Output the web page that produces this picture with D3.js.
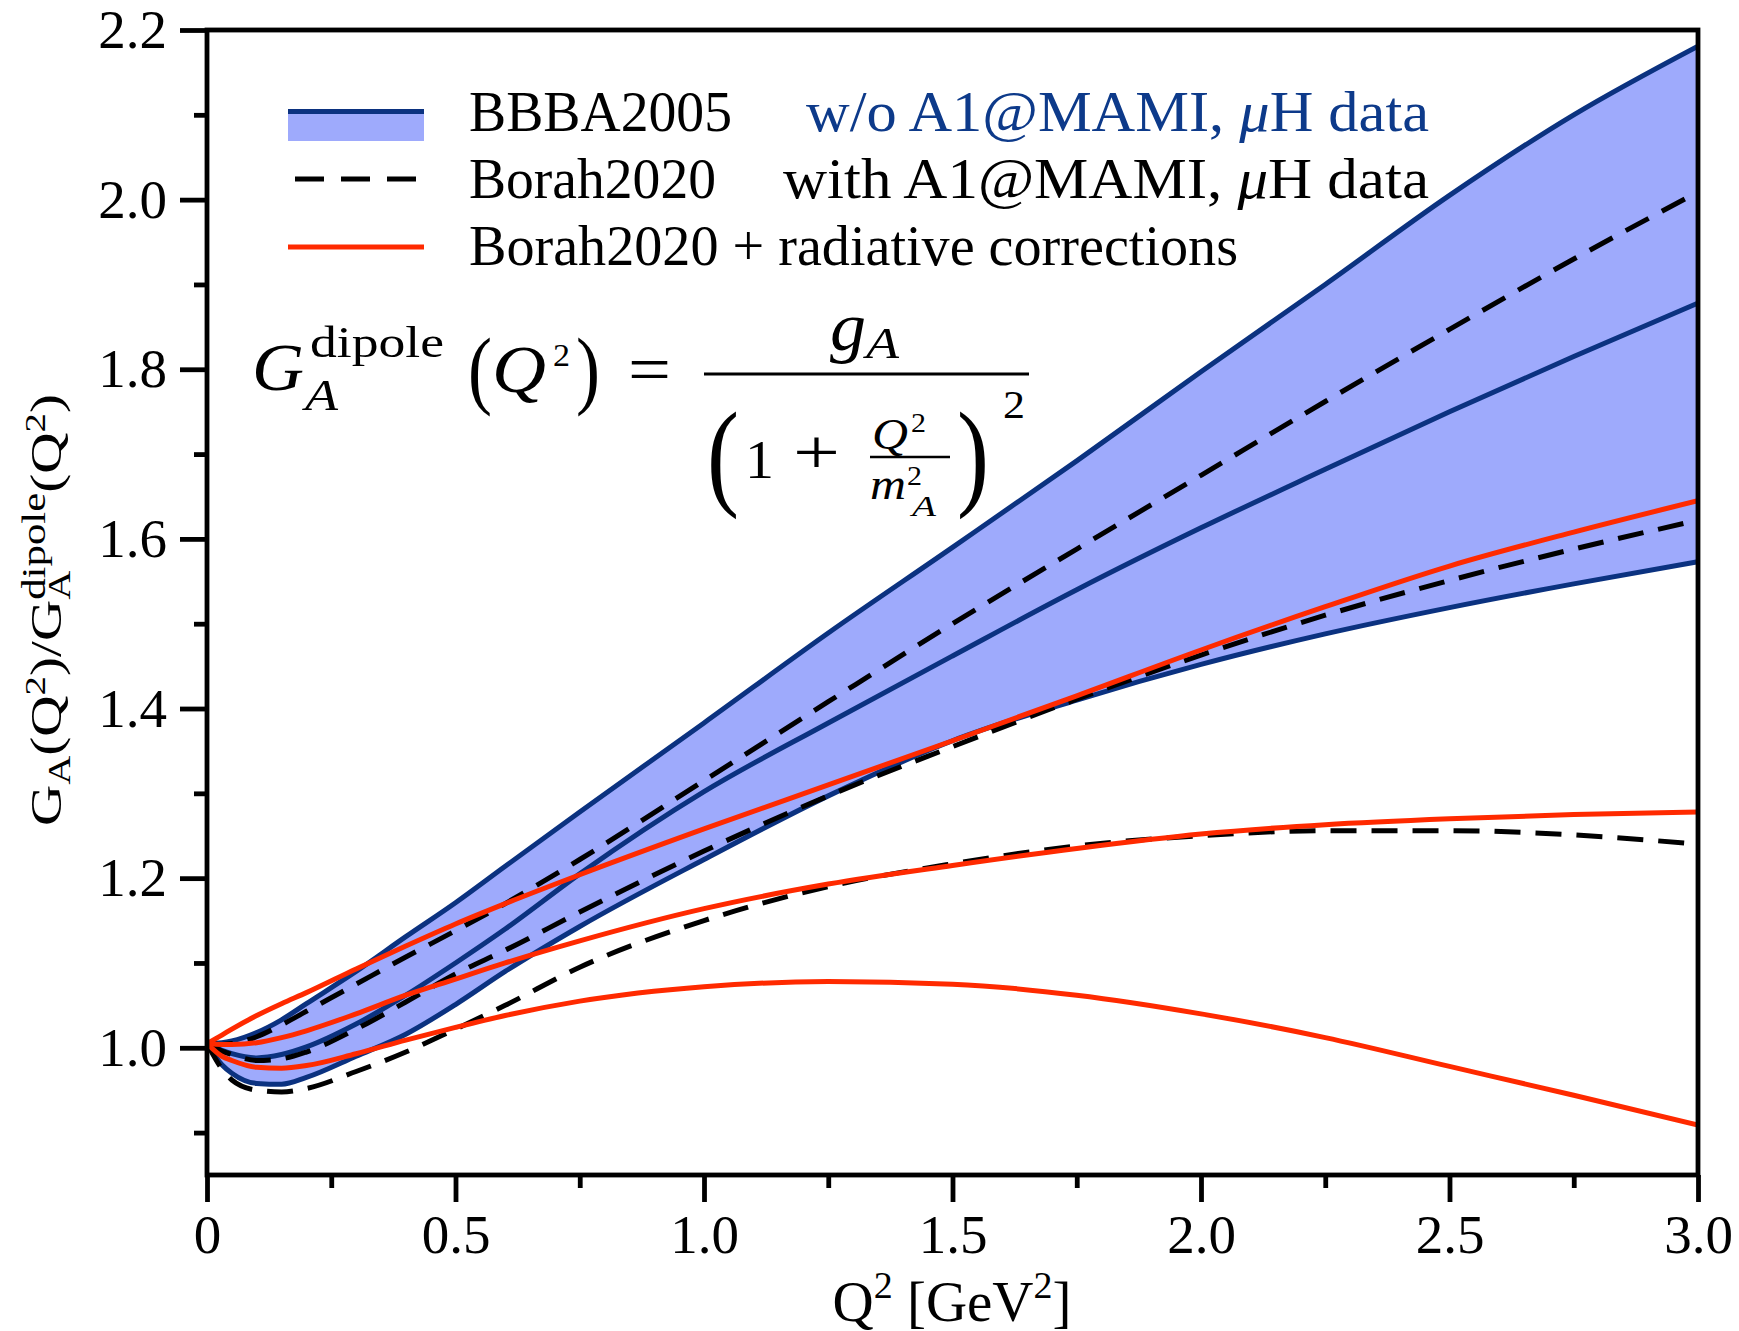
<!DOCTYPE html>
<html><head><meta charset="utf-8">
<script src="https://cdn.jsdelivr.net/npm/d3@7"></script>
<style>
body{margin:0;background:#fff;}
text{font-family:"Liberation Serif","Times New Roman",serif;fill:#000;}
</style>
</head><body>
<svg id="c" width="1739" height="1331"></svg>
<script>
// ---------------- data ----------------
const qVals = [0, 0.03, 0.05, 0.1, 0.15, 0.2, 0.3, 0.4, 0.5, 0.6, 0.75, 1.0, 1.25, 1.5, 1.75, 2.0, 2.25, 2.5, 2.75, 3.0];
const bbbaUpper   = [1.005, 1.006, 1.008, 1.018, 1.033, 1.052, 1.090, 1.131, 1.171, 1.214, 1.278, 1.383, 1.489, 1.590, 1.692, 1.797, 1.900, 2.005, 2.100, 2.181];
const bbbaCentral = [1.005, 0.997, 0.993, 0.988, 0.992, 1.001, 1.028, 1.062, 1.100, 1.140, 1.205, 1.302, 1.383, 1.462, 1.540, 1.613, 1.682, 1.750, 1.815, 1.878];
const bbbaLower   = [1.005, 0.980, 0.970, 0.958, 0.957, 0.965, 0.990, 1.016, 1.051, 1.090, 1.143, 1.222, 1.297, 1.362, 1.410, 1.452, 1.488, 1.519, 1.547, 1.573];
const borahUpper   = [1.005, 1.004, 1.005, 1.013, 1.027, 1.043, 1.075, 1.107, 1.138, 1.170, 1.222, 1.315, 1.408, 1.500, 1.588, 1.675, 1.762, 1.847, 1.930, 2.009];
const borahCentral = [1.005, 0.996, 0.992, 0.985, 0.987, 0.995, 1.022, 1.054, 1.087, 1.115, 1.160, 1.232, 1.297, 1.355, 1.411, 1.463, 1.510, 1.551, 1.588, 1.622];
const borahLower   = [1.005, 0.975, 0.962, 0.950, 0.948, 0.952, 0.972, 0.995, 1.022, 1.050, 1.095, 1.150, 1.190, 1.217, 1.238, 1.250, 1.256, 1.256, 1.251, 1.240];
const radUpper   = [1.005, 1.015, 1.022, 1.038, 1.052, 1.065, 1.093, 1.120, 1.146, 1.170, 1.204, 1.258, 1.310, 1.362, 1.415, 1.469, 1.520, 1.568, 1.608, 1.645];
const radCentral = [1.005, 1.004, 1.004, 1.006, 1.012, 1.020, 1.040, 1.062, 1.081, 1.100, 1.126, 1.164, 1.193, 1.215, 1.235, 1.252, 1.263, 1.270, 1.275, 1.278];
const radLower   = [1.005, 0.990, 0.985, 0.977, 0.976, 0.979, 0.993, 1.009, 1.024, 1.038, 1.055, 1.072, 1.078, 1.075, 1.062, 1.040, 1.012, 0.978, 0.944, 0.909];

const xTicks = [0, 0.5, 1.0, 1.5, 2.0, 2.5, 3.0];
const xTickLabels = ["0", "0.5", "1.0", "1.5", "2.0", "2.5", "3.0"];
const xMinorTicks = [0.25, 0.75, 1.25, 1.75, 2.25, 2.75];
const yTicks = [1.0, 1.2, 1.4, 1.6, 1.8, 2.0, 2.2];
const yTickLabels = ["1.0", "1.2", "1.4", "1.6", "1.8", "2.0", "2.2"];
const yMinorTicks = [0.9, 1.1, 1.3, 1.5, 1.7, 1.9, 2.1];

const legendNames = ["BBBA2005", "Borah2020", "Borah2020 + radiative corrections"];
const legendNotes = ["w/o A1@MAMI, ", "with A1@MAMI, ", ""];

// ---------------- styles ----------------
const NAVY = "#0b3280", FILL = "#9eaafc", RED = "#ff2a00", NOTEBLUE = "#0d3a8a";
const L = 207, R = 1698, T = 30, B = 1175;

const svg = d3.select("#c");
const x = d3.scaleLinear().domain([0, 3]).range([L, R]);
const y = d3.scaleLinear().domain([0.85, 2.2]).range([B, T]);

svg.append("defs").append("clipPath").attr("id", "clip")
  .append("rect").attr("x", L).attr("y", T).attr("width", R - L).attr("height", B - T);

const plot = svg.append("g").attr("clip-path", "url(#clip)");
const idx = d3.range(qVals.length);

const area = d3.area().curve(d3.curveMonotoneX)
  .x(i => x(qVals[i])).y0(i => y(bbbaLower[i])).y1(i => y(bbbaUpper[i]));
plot.append("path").attr("d", area(idx)).attr("fill", FILL);

function lineOf(arr) {
  return d3.line().curve(d3.curveMonotoneX).x(i => x(qVals[i])).y(i => y(arr[i]))(idx);
}
[bbbaUpper, bbbaCentral, bbbaLower].forEach(a =>
  plot.append("path").attr("d", lineOf(a)).attr("fill", "none").attr("stroke", NAVY).attr("stroke-width", 5));
[borahUpper, borahCentral, borahLower].forEach(a =>
  plot.append("path").attr("d", lineOf(a)).attr("fill", "none").attr("stroke", "#000")
    .attr("stroke-width", 5).attr("stroke-dasharray", "26,15"));
[radUpper, radCentral, radLower].forEach(a =>
  plot.append("path").attr("d", lineOf(a)).attr("fill", "none").attr("stroke", RED).attr("stroke-width", 5));

// ---------------- frame & axes ----------------
svg.append("rect").attr("x", L).attr("y", T).attr("width", R - L).attr("height", B - T)
  .attr("fill", "none").attr("stroke", "#000").attr("stroke-width", 4.8);

const yAxis = d3.axisLeft(y).tickValues(yTicks).tickFormat((d, i) => yTickLabels[i])
  .tickSizeInner(27).tickSizeOuter(0).tickPadding(13);
const gy = svg.append("g").attr("transform", `translate(${L},0)`).call(yAxis);
const yMin = d3.axisLeft(y).tickValues(yMinorTicks).tickFormat("").tickSizeInner(13).tickSizeOuter(0);
const gy2 = svg.append("g").attr("transform", `translate(${L},0)`).call(yMin);

const xAxis = d3.axisBottom(x).tickValues(xTicks).tickFormat((d, i) => xTickLabels[i])
  .tickSizeInner(27).tickSizeOuter(0).tickPadding(12);
const gx = svg.append("g").attr("transform", `translate(0,${B})`).call(xAxis);
const xMin = d3.axisBottom(x).tickValues(xMinorTicks).tickFormat("").tickSizeInner(13).tickSizeOuter(0);
const gx2 = svg.append("g").attr("transform", `translate(0,${B})`).call(xMin);

[gy, gy2, gx, gx2].forEach(g => {
  g.select(".domain").remove();
  g.selectAll(".tick line").attr("stroke", "#000").attr("stroke-width", 4.8);
  g.selectAll(".tick text").attr("font-family", "Liberation Serif, serif").attr("font-size", 55).attr("fill", "#000");
});

// ---------------- rich text helper ----------------
function rich(parent, pieces) {
  let cx = 0;
  pieces.forEach(p => {
    if (p.stack) {
      let w = 0;
      p.stack.forEach(s => {
        const t = parent.append("text").attr("x", cx).attr("y", s.dy || 0)
          .attr("font-size", s.size).attr("font-style", s.it ? "italic" : "normal").text(s.t);
        w = Math.max(w, t.node().getComputedTextLength());
      });
      cx += w;
    } else {
      const t = parent.append("text").attr("x", cx).attr("y", p.dy || 0)
        .attr("font-size", p.size).attr("font-style", p.it ? "italic" : "normal").text(p.t);
      cx += t.node().getComputedTextLength() + (p.gap || 0);
    }
  });
  return cx;
}

// x title
const xt = svg.append("g");
const xw = rich(xt, [
  {t: "Q", size: 57}, {t: "2", size: 38, dy: -23}, {t: "\u00a0[GeV", size: 57}, {t: "2", size: 38, dy: -23}, {t: "]", size: 57}
]);
xt.attr("transform", `translate(${952 - xw / 2},1321)`);

// y title
const ytInner = svg.append("g");
const yw = rich(ytInner, [
  {t: "G", size: 44}, {t: "A", size: 31, dy: 9},
  {t: "(Q", size: 44}, {t: "2", size: 30, dy: -16}, {t: ")/G", size: 44},
  {stack: [{t: "dipole", size: 33, dy: -16}, {t: "A", size: 31, dy: 9}]},
  {t: "(Q", size: 44}, {t: "2", size: 30, dy: -16}, {t: ")", size: 44}
]);
const ysc = 432 / yw;
ytInner.attr("transform", `translate(61,610) rotate(-90) scale(${ysc},1) translate(${-yw / 2},0)`);

// ---------------- legend ----------------
const lg = svg.append("g");
lg.append("rect").attr("x", 288).attr("y", 109).attr("width", 136).attr("height", 32).attr("fill", FILL);
lg.append("line").attr("x1", 288).attr("x2", 424).attr("y1", 111.5).attr("y2", 111.5).attr("stroke", NAVY).attr("stroke-width", 5);
lg.append("line").attr("x1", 295).attr("x2", 416).attr("y1", 179).attr("y2", 179).attr("stroke", "#000")
  .attr("stroke-width", 5).attr("stroke-dasharray", "29,17");
lg.append("line").attr("x1", 288).attr("x2", 424).attr("y1", 247).attr("y2", 247).attr("stroke", RED).attr("stroke-width", 5);

const nameW = [263, 247, 769];
const baseY = [131, 198, 265];
legendNames.forEach((n, i) => {
  lg.append("text").attr("x", 469).attr("y", baseY[i]).attr("font-size", 56)
    .attr("textLength", nameW[i]).attr("lengthAdjust", "spacingAndGlyphs").text(n);
});
const noteX = [806, 783];
[0, 1].forEach(i => {
  const c = i === 0 ? NOTEBLUE : "#000";
  const t = lg.append("text").attr("x", noteX[i]).attr("y", baseY[i]).attr("font-size", 56)
    .attr("textLength", 1429 - noteX[i]).attr("lengthAdjust", "spacingAndGlyphs").style("fill", c);
  t.append("tspan").text(legendNotes[i]).style("fill", c);
  t.append("tspan").attr("font-style", "italic").text("\u03bc").style("fill", c);
  t.append("tspan").text("H data").style("fill", c);
});

// ---------------- formula annotation ----------------
const f = svg.append("g");
function ft(xp, yp, s, size, it, tl) {
  const t = f.append("text").attr("x", xp).attr("y", yp).attr("font-size", size)
    .attr("font-style", it ? "italic" : "normal").text(s);
  if (tl) t.attr("textLength", tl).attr("lengthAdjust", "spacingAndGlyphs");
  return t;
}
ft(252, 390, "G", 68, true, 52);
ft(310, 357, "dipole", 44, false, 134);
ft(305, 410, "A", 44, true, 33);
ft(468, 398, "(", 86, false, 24);
ft(492, 392, "Q", 68, true, 54);
ft(553, 366, "2", 32, false, 17);
ft(576, 398, ")", 86, false, 24);
ft(628, 392, "=", 68, false, 43);
f.append("line").attr("x1", 704).attr("x2", 1029).attr("y1", 374).attr("y2", 374).attr("stroke", "#000").attr("stroke-width", 3);
ft(830, 350, "g", 68, true, 36);
ft(866, 358, "A", 44, true, 33);
ft(707, 494, "(", 118, false, 32);
ft(745, 478, "1", 54, false, 29);
ft(793, 474, "+", 64, false, 47);
ft(872, 449, "Q", 44, true, 36);
ft(911, 432, "2", 28, false, 15);
f.append("line").attr("x1", 870).attr("x2", 950).attr("y1", 457).attr("y2", 457).attr("stroke", "#000").attr("stroke-width", 2.5);
ft(870, 499, "m", 44, true, 36);
ft(907, 485, "2", 28, false, 15);
ft(912, 516, "A", 30, true, 24);
ft(957, 494, ")", 118, false, 32);
ft(1003, 418, "2", 40, false, 22);
</script>
</body></html>
